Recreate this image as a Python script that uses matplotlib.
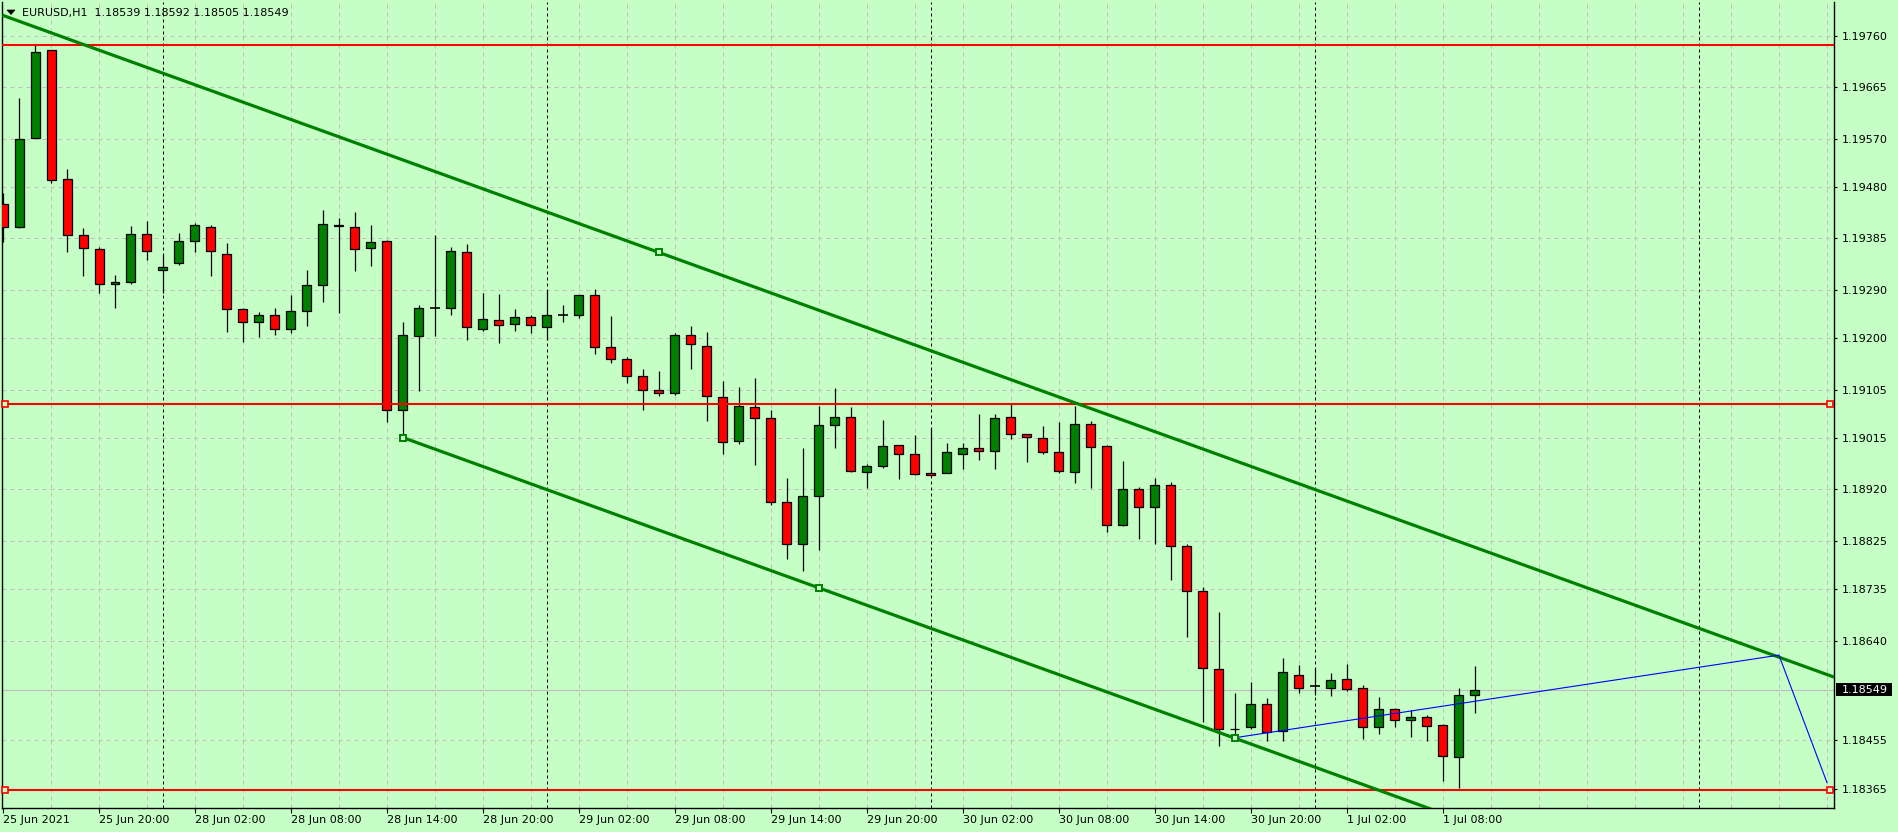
import matplotlib
matplotlib.use("Agg")
import matplotlib.pyplot as plt
from matplotlib.patches import Rectangle, Polygon
from matplotlib.transforms import blended_transform_factory

# ---------------- data (EURUSD H1, 25 Jun 14:00 .. 1 Jul 10:00) ----------------
symbol = "EURUSD,H1"
opens = [1.19448, 1.19406, 1.19572, 1.19734, 1.19496, 1.19391, 1.19365, 1.19300, 1.19304, 1.19394,
         1.19326, 1.19339, 1.19380, 1.19407, 1.19357, 1.19254, 1.19231, 1.19243, 1.19218, 1.19250,
         1.19298, 1.19409, 1.19407, 1.19367, 1.19380, 1.19067, 1.19205, 1.19256, 1.19256, 1.19359,
         1.19218, 1.19233, 1.19226, 1.19239, 1.19220, 1.19243, 1.19243, 1.19280, 1.19183, 1.19161,
         1.19131, 1.19105, 1.19098, 1.19206, 1.19185, 1.19091, 1.19009, 1.19072, 1.19052, 1.18896,
         1.18818, 1.18907, 1.19039, 1.19055, 1.18952, 1.18963, 1.19002, 1.18985, 1.18950, 1.18951,
         1.18986, 1.18996, 1.18992, 1.19054, 1.19022, 1.19015, 1.18989, 1.18952, 1.19042, 1.19000,
         1.18855, 1.18920, 1.18887, 1.18928, 1.18816, 1.18731, 1.18587, 1.18477, 1.18479, 1.18522,
         1.18473, 1.18577, 1.18555, 1.18553, 1.18568, 1.18552, 1.18479, 1.18513, 1.18493, 1.18499,
         1.18484, 1.18425, 1.18539]
highs = [1.19470, 1.19646, 1.19745, 1.19735, 1.19513, 1.19404, 1.19370, 1.19317, 1.19408, 1.19417,
         1.19357, 1.19395, 1.19413, 1.19410, 1.19377, 1.19256, 1.19249, 1.19256, 1.19281, 1.19327,
         1.19438, 1.19423, 1.19434, 1.19410, 1.19382, 1.19230, 1.19261, 1.19391, 1.19370, 1.19375,
         1.19284, 1.19282, 1.19254, 1.19244, 1.19289, 1.19261, 1.19281, 1.19291, 1.19241, 1.19165,
         1.19144, 1.19139, 1.19209, 1.19222, 1.19211, 1.19120, 1.19109, 1.19126, 1.19068, 1.18941,
         1.18996, 1.19074, 1.19107, 1.19073, 1.18968, 1.19048, 1.19003, 1.19021, 1.19033, 1.19006,
         1.19006, 1.19060, 1.19060, 1.19081, 1.19023, 1.19037, 1.19044, 1.19075, 1.19046, 1.19002,
         1.18973, 1.18924, 1.18942, 1.18933, 1.18818, 1.18739, 1.18692, 1.18543, 1.18563, 1.18533,
         1.18607, 1.18594, 1.18589, 1.18579, 1.18596, 1.18557, 1.18535, 1.18515, 1.18511, 1.18503,
         1.18485, 1.18552, 1.18592]
lows = [1.19378, 1.19405, 1.19571, 1.19488, 1.19359, 1.19316, 1.19284, 1.19257, 1.19300, 1.19345,
        1.19283, 1.19336, 1.19360, 1.19316, 1.19212, 1.19194, 1.19203, 1.19207, 1.19210, 1.19223,
        1.19268, 1.19246, 1.19325, 1.19334, 1.19044, 1.19016, 1.19103, 1.19205, 1.19244, 1.19197,
        1.19213, 1.19192, 1.19214, 1.19210, 1.19196, 1.19231, 1.19237, 1.19170, 1.19154, 1.19118,
        1.19068, 1.19093, 1.19095, 1.19144, 1.19047, 1.18985, 1.19005, 1.18965, 1.18891, 1.18791,
        1.18768, 1.18807, 1.18997, 1.18953, 1.18923, 1.18959, 1.18940, 1.18946, 1.18944, 1.18950,
        1.18957, 1.18975, 1.18958, 1.19013, 1.18970, 1.18985, 1.18951, 1.18932, 1.18923, 1.18842,
        1.18853, 1.18829, 1.18818, 1.18753, 1.18647, 1.18490, 1.18445, 1.18460, 1.18477, 1.18453,
        1.18453, 1.18543, 1.18539, 1.18537, 1.18546, 1.18458, 1.18466, 1.18479, 1.18462, 1.18453,
        1.18380, 1.18366, 1.18505]
closes = [1.19406, 1.19570, 1.19730, 1.19493, 1.19391, 1.19367, 1.19300, 1.19304, 1.19393, 1.19361,
          1.19333, 1.19380, 1.19409, 1.19361, 1.19254, 1.19231, 1.19243, 1.19217, 1.19250, 1.19298,
          1.19411, 1.19408, 1.19365, 1.19378, 1.19067, 1.19207, 1.19256, 1.19256, 1.19361, 1.19220,
          1.19235, 1.19224, 1.19239, 1.19224, 1.19243, 1.19243, 1.19280, 1.19183, 1.19161, 1.19131,
          1.19105, 1.19098, 1.19206, 1.19189, 1.19093, 1.19007, 1.19074, 1.19052, 1.18896, 1.18818,
          1.18907, 1.19039, 1.19055, 1.18954, 1.18963, 1.19000, 1.18986, 1.18948, 1.18946, 1.18989,
          1.18996, 1.18992, 1.19052, 1.19022, 1.19017, 1.18989, 1.18954, 1.19041, 1.18999, 1.18855,
          1.18920, 1.18887, 1.18928, 1.18815, 1.18731, 1.18589, 1.18477, 1.18476, 1.18522, 1.18471,
          1.18581, 1.18553, 1.18555, 1.18566, 1.18550, 1.18479, 1.18513, 1.18493, 1.18499, 1.18482,
          1.18427, 1.18540, 1.18549]

x_tick_pos = [0, 6, 12, 18, 24, 30, 36, 42, 48, 54, 60, 66, 72, 78, 84, 90]
x_tick_labels = ["25 Jun 2021", "25 Jun 20:00", "28 Jun 02:00", "28 Jun 08:00", "28 Jun 14:00",
                 "28 Jun 20:00", "29 Jun 02:00", "29 Jun 08:00", "29 Jun 14:00", "29 Jun 20:00",
                 "30 Jun 02:00", "30 Jun 08:00", "30 Jun 14:00", "30 Jun 20:00", "1 Jul 02:00",
                 "1 Jul 08:00"]
y_ticks = [1.19760, 1.19665, 1.19570, 1.19480, 1.19385, 1.19290, 1.19200, 1.19105,
           1.19015, 1.18920, 1.18825, 1.18735, 1.18640, 1.18455, 1.18365]
day_separators = [10, 34, 58, 82, 106]
red_levels = [1.19743, 1.19078, 1.18363]
channel_base = [(25, 1.19016), (77, 1.18459)]
channel_parallel_anchor = (41, 1.19359)
channel_markers_x = [25, 51, 77]
blue_x = [77, 111, 114]
blue_y = [1.18460, 1.18613, 1.18377]

# ---------------- figure ----------------
BG = '#C6FFC6'
W, H = 1898, 832
plt.rcParams['font.family'] = ['DejaVu Sans']
fig = plt.figure(figsize=(W / 100, H / 100), dpi=100, facecolor=BG)
ax_left, ax_right, ax_top, ax_bottom = 2.3, 1834.3, 1.7, 807.5
ax = fig.add_axes([ax_left / W, (H - ax_bottom) / H, (ax_right - ax_left) / W,
                   (ax_bottom - ax_top) / H], facecolor=BG)
XMIN, XMAX = -0.044, 114.46
YMIN, YMAX = 1.183307, 1.198236
ax.set_xlim(XMIN, XMAX)
ax.set_ylim(YMIN, YMAX)
px_y = (YMAX - YMIN) / (ax_bottom - ax_top)

for s in ['top']:
    ax.spines[s].set_visible(False)
for s in ['left', 'right', 'bottom']:
    ax.spines[s].set_linewidth(1.0)
    ax.spines[s].set_color('black')

grid_col = '#C4BAC4'
for k in range(3, 115, 3):
    ax.axvline(k, color=grid_col, lw=0.72, ls=(0, (4, 4)), zorder=0.5)
for v in y_ticks:
    ax.axhline(v, color=grid_col, lw=0.72, ls=(0, (4, 4)), zorder=0.5)
for k in day_separators:
    ax.axvline(k, color='black', lw=0.72, ls=(0, (3, 3)), zorder=0.6)
# bid line
ax.axhline(closes[-1], color='#C0C0C0', lw=0.9, zorder=0.7)

# ---------------- candles ----------------
bw = 9 / 16
for k, (o, h, l, c) in enumerate(zip(opens, highs, lows, closes)):
    ax.plot([k, k], [l, h], color='black', lw=0.9, zorder=2, solid_capstyle='butt')
    if abs(c - o) < 1e-9:
        ax.plot([k - 0.32, k + 0.32], [o, o], color='black', lw=1.2, zorder=3,
                solid_capstyle='butt')
    else:
        fc = '#008000' if c > o else '#FF0000'
        ax.add_patch(Rectangle((k - bw / 2, min(o, c)), bw, abs(c - o), facecolor=fc,
                               edgecolor='black', lw=0.9, zorder=3))

# ---------------- objects ----------------
for i, lev in enumerate(red_levels):
    ax.axhline(lev, color='#FF0000', lw=1.5, zorder=4)
    if i > 0:
        ax.plot([0.1, 114.2], [lev, lev], ls='none', marker='s', ms=4, mec='#FF0000',
                mfc=BG, mew=1.2, zorder=6, clip_on=False)

(k1, p1), (k2, p2) = channel_base
slope = (p2 - p1) / (k2 - k1)
ax.plot([k1, XMAX], [p1, p1 + slope * (XMAX - k1)], color='#008000', lw=2.3, zorder=5,
        solid_capstyle='butt')
ka, pa = channel_parallel_anchor
ax.plot([XMIN, XMAX], [pa + slope * (XMIN - ka), pa + slope * (XMAX - ka)], color='#008000',
        lw=2.3, zorder=5, solid_capstyle='butt')
mx = channel_markers_x
ax.plot(mx, [p1 + slope * (k - k1) for k in mx], ls='none', marker='s', ms=4.2,
        mec='#008000', mfc=BG, mew=1.4, zorder=6)
ax.plot([ka], [pa], ls='none', marker='s', ms=4.2, mec='#008000', mfc=BG, mew=1.4, zorder=6)

ax.plot(blue_x, blue_y, color='#0000FF', lw=0.8, zorder=5.5)

# ---------------- axes ticks ----------------
ax.set_xticks(x_tick_pos)
ax.set_xticklabels(x_tick_labels, ha='left', fontsize=8)
ax.tick_params(axis='x', direction='out', length=3.3, width=0.8, pad=2.0, colors='black')
ax.yaxis.tick_right()
ax.set_yticks(y_ticks)
ax.set_yticklabels([f"{v:.5f}" for v in y_ticks], fontsize=8)
ax.tick_params(axis='y', direction='out', length=2.2, width=0.8, pad=3.2, colors='black')

# current price box
tr = blended_transform_factory(ax.transAxes, ax.transData)
axw = ax_right - ax_left
ax.add_patch(Rectangle(((1836 - ax_left) / axw, closes[-1] - 6.2 * px_y), 55.7 / axw,
                       12.4 * px_y, transform=tr, facecolor='black', edgecolor='none',
                       clip_on=False, zorder=7))
ax.text((1842 - ax_left) / axw, closes[-1], f"{closes[-1]:.5f}", transform=tr, color='white',
        fontsize=8, va='center', ha='left', zorder=8, clip_on=False)

# header
fig.text(21.7 / W, 1 - 12.7 / H,
         f"{symbol}  {opens[-1]:.5f} {highs[-1]:.5f} {lows[-1]:.5f} {closes[-1]:.5f}",
         fontsize=8, va='center', ha='left', color='black')
fig.patches.append(Polygon([(7 / W, 1 - 10 / H), (15 / W, 1 - 10 / H), (11 / W, 1 - 14.5 / H)],
                           closed=True, transform=fig.transFigure, facecolor='black',
                           edgecolor='black', lw=0.5))

fig.savefig('out.png', dpi=100, facecolor=BG)
